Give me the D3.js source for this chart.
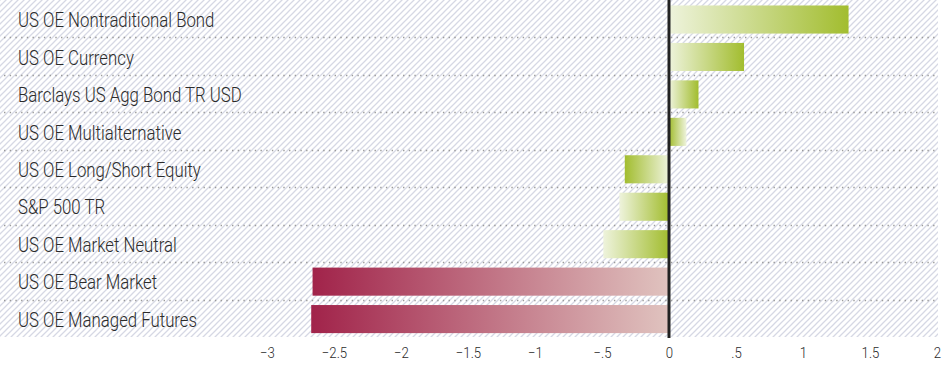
<!DOCTYPE html>
<html>
<head>
<meta charset="utf-8">
<script src="https://cdn.jsdelivr.net/npm/d3@7"></script>
<style>
  html, body { margin: 0; padding: 0; background: #fff; }
  svg { display: block; }
  .cat { font-family: Roboto, 'DejaVu Sans Condensed', sans-serif; font-weight: 300; font-size: 20px; fill: #2b2b2b; }
  .tick text { font-family: Roboto, 'DejaVu Sans Condensed', sans-serif; font-weight: 300; font-size: 15px; fill: #2b2b2b; }
</style>
</head>
<body>
<svg id="chart" width="952" height="366"></svg>
<script>
// Categories, top to bottom
const categories = [
  "US OE Nontraditional Bond",
  "US OE Currency",
  "Barclays US Agg Bond TR USD",
  "US OE Multialternative",
  "US OE Long/Short Equity",
  "S&P 500 TR",
  "US OE Market Neutral",
  "US OE Bear Market",
  "US OE Managed Futures"
];
// Returns (%)
const values = [1.34, 0.56, 0.22, 0.13, -0.33, -0.37, -0.49, -2.66, -2.67];
// Axis tick values
const tickValues = [-3, -2.5, -2, -1.5, -1, -0.5, 0, 0.5, 1, 1.5, 2];

const plot = { left: 0, right: 938, top: 0, bottom: 337 };
// Horizontal squeeze that gives the condensed lettering
const labelSqueeze = 0.84, tickSqueeze = 0.88;

const svg = d3.select("#chart");
const defs = svg.append("defs");

// Diagonal hatch used for the plot background
const hatch = defs.append("pattern")
  .attr("id", "hatch")
  .attr("patternUnits", "userSpaceOnUse")
  .attr("width", 6).attr("height", 6);
hatch.append("path")
  .attr("d", "M-1,1 l2,-2 M0,6 l6,-6 M5,7 l2,-2")
  .attr("stroke", "#d6d8e4")
  .attr("stroke-width", 1.3);

const x = d3.scaleLinear().domain([-3, 2]).range([267, 937]);
const y = d3.scaleBand().domain(categories).range([plot.top, plot.bottom]).paddingInner(0.25).paddingOuter(0.125);

svg.append("rect")
  .attr("x", plot.left).attr("y", plot.top)
  .attr("width", plot.right - plot.left).attr("height", plot.bottom - plot.top)
  .attr("fill", "url(#hatch)");

// Dotted row separators
const step = y.step();
svg.append("g").selectAll("line")
  .data(categories.slice(1))
  .join("line")
  .attr("x1", 4).attr("x2", 935)
  .attr("y1", d => Math.round(y(d) - step * 0.125) + 0.5)
  .attr("y2", d => Math.round(y(d) - step * 0.125) + 0.5)
  .attr("stroke", "#9a9a9a")
  .attr("stroke-width", 1.4)
  .attr("stroke-dasharray", "1.4,4.3");

// Gradients: light end vs. saturated end for each bar
const green = "#a2bd2f", greenLight = "#eef3dc";
const red = "#a1234a", redLight = "#e0c3bf";
const flipped = new Set(["US OE Multialternative", "US OE Long/Short Equity"]);

categories.forEach((c, i) => {
  const v = values[i];
  let leftColor, rightColor;
  if (v < -1) { leftColor = red; rightColor = redLight; }
  else if (flipped.has(c)) { leftColor = green; rightColor = greenLight; }
  else { leftColor = greenLight; rightColor = green; }
  const g = defs.append("linearGradient")
    .attr("id", "grad" + i)
    .attr("x1", "0%").attr("x2", "100%").attr("y1", "0%").attr("y2", "0%");
  g.append("stop").attr("offset", "0%").attr("stop-color", leftColor);
  g.append("stop").attr("offset", "100%").attr("stop-color", rightColor);
});

svg.append("g").selectAll("rect")
  .data(values)
  .join("rect")
  .attr("x", d => x(Math.min(0, d)))
  .attr("width", d => Math.abs(x(d) - x(0)))
  .attr("y", (d, i) => y(categories[i]) + 0.8)
  .attr("height", y.bandwidth())
  .attr("fill", (d, i) => `url(#grad${i})`);

// Zero line
svg.append("line")
  .attr("x1", x(0)).attr("x2", x(0))
  .attr("y1", plot.top).attr("y2", plot.bottom + 1)
  .attr("stroke", "#222")
  .attr("stroke-width", 3);

// Category labels
svg.append("g").selectAll("text")
  .data(categories)
  .join("text")
  .attr("class", "cat")
  .attr("transform", d => `translate(18,${y(d) + y.bandwidth() / 2 + 8.5}) scale(${labelSqueeze},1)`)
  .text(d => d);

// Bottom axis
const fmt = d => {
  if (d === 0) return "0";
  const a = Math.abs(d);
  const s = a < 1 ? String(a).replace(/^0/, "") : String(a);
  return (d < 0 ? "\u2212" : "") + s;
};
const axis = svg.append("g")
  .attr("transform", `translate(0,${plot.bottom})`)
  .call(d3.axisBottom(x).tickValues(tickValues).tickFormat(fmt).tickSize(0));
axis.select(".domain").remove();
axis.selectAll(".tick text")
  .attr("y", 0).attr("dy", null)
  .attr("transform", `translate(0,20.5) scale(${tickSqueeze},1)`)
  .attr("font-family", null).attr("font-size", null);
</script>
</body>
</html>
